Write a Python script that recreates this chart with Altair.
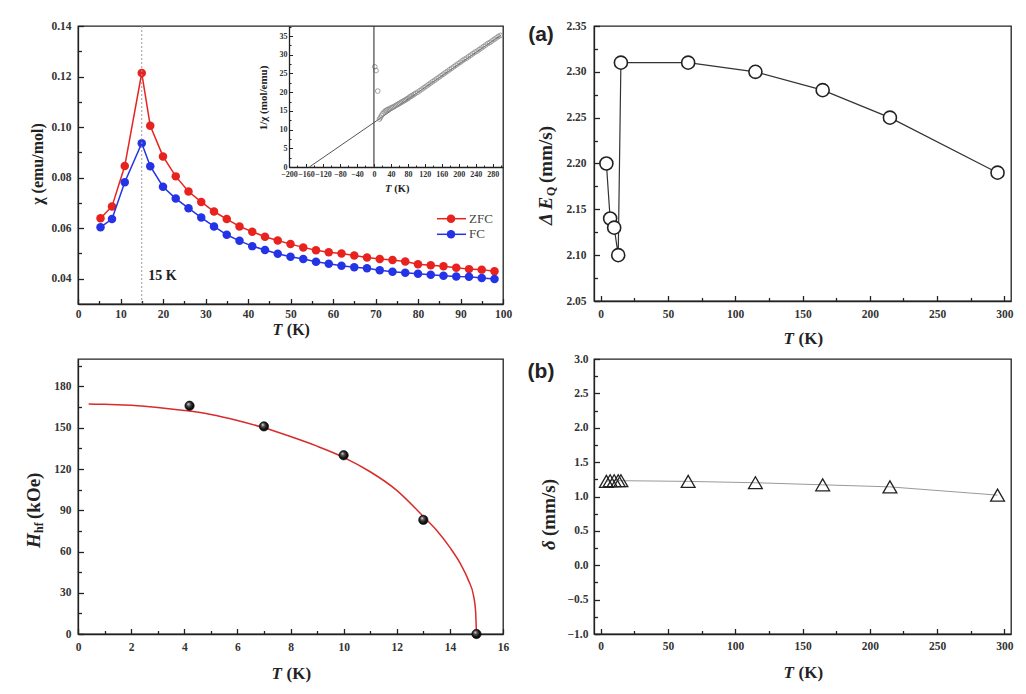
import altair as alt
import pandas as pd

SERIF = "Liberation Serif"
SANS = "Liberation Sans"
INK = "#222222"
LAB = "#333333"
RED = "#e8231f"
BLUE = "#2433e6"

# ---------------- data: top-left (susceptibility) ----------------
T_chi = [5.3, 8, 11, 15, 17, 20, 23, 26, 29, 32, 35, 38, 41, 44, 47, 50, 53, 56, 59, 62,
         65, 68, 71, 74, 77, 80, 83, 86, 89, 92, 95, 98]
chi_zfc = [0.0639, 0.0686, 0.0846, 0.1214, 0.1005, 0.0884, 0.0805, 0.0745, 0.0704, 0.0666,
           0.0636, 0.0607, 0.0586, 0.0566, 0.0551, 0.0537, 0.0524, 0.0513, 0.0505, 0.0500,
           0.0492, 0.0484, 0.0478, 0.0474, 0.0468, 0.0457, 0.0453, 0.0449, 0.0443, 0.0438,
           0.0436, 0.0430]
chi_fc = [0.0604, 0.0636, 0.0782, 0.0936, 0.0845, 0.0764, 0.0717, 0.0679, 0.0642, 0.0607,
          0.0574, 0.0550, 0.0529, 0.0514, 0.0499, 0.0487, 0.0478, 0.0467, 0.0459, 0.0451,
          0.0445, 0.0441, 0.0434, 0.0428, 0.0424, 0.0420, 0.0416, 0.0412, 0.0409, 0.0408,
          0.0403, 0.0399]
legend_labels = ["ZFC", "FC"]
legend_colors = [RED, BLUE]
T_peak = 15
peak_label = "15 K"

# inset: 1/chi vs T
T_inv = [2, 5, 9, 13, 15, 18, 21, 24, 27, 30, 33, 36, 39, 42, 45, 48, 51, 54, 57, 60, 63, 66,
         69, 72, 75, 78, 81, 84, 87, 90, 94, 98, 103, 108, 113, 118, 123, 128, 133, 138, 143,
         148, 153, 158, 163, 168, 173, 178, 183, 188, 193, 198, 203, 208, 213, 218, 223, 228,
         233, 238, 243, 248, 253, 258, 263, 268, 273, 278, 283, 288, 293, 298]
inv_chi = [26.8, 25.8, 20.3, 12.8, 13.2, 13.8, 14.3, 14.7, 15.0, 15.2, 15.4, 15.5, 15.7, 15.9,
           16.0, 16.2, 16.4, 16.6, 16.8, 17.0, 17.2, 17.4, 17.6, 17.8, 18.0, 18.2, 18.4, 18.7,
           18.9, 19.1, 19.4, 19.7, 20.0, 20.4, 20.8, 21.2, 21.6, 22.0, 22.4, 22.8, 23.2, 23.6,
           24.0, 24.4, 24.8, 25.2, 25.6, 26.0, 26.4, 26.8, 27.2, 27.6, 28.0, 28.4, 28.8, 29.1,
           29.5, 29.9, 30.3, 30.7, 31.0, 31.4, 31.8, 32.2, 32.6, 33.0, 33.3, 33.7, 34.1, 34.5,
           34.9, 35.2]
T_cw = [-152, 300]
cw_fit = [0.0, 35.3]

# ---------------- data: Mossbauer (a), (b) ----------------
T_moss = [4.2, 7, 10, 13, 15, 65, 115, 165, 215, 295]
dEq = [2.20, 2.14, 2.13, 2.10, 2.31, 2.31, 2.30, 2.28, 2.25, 2.19]
delta = [1.22, 1.23, 1.23, 1.23, 1.23, 1.22, 1.20, 1.17, 1.14, 1.02]

# ---------------- data: hyperfine field ----------------
T_hf = [4.2, 7, 10, 13, 15]
H_hf = [166, 151, 130, 83, 0]
T_hf_fit = [0.4, 1, 2, 3, 4, 5, 6, 7, 8, 9, 10, 11, 12, 13, 13.5, 14, 14.4, 14.7, 14.9,
            14.97, 15.0]
H_hf_fit = [167.2, 167.1, 166.3, 164.8, 162.6, 159.7, 155.3, 150.0, 143.6, 136.6, 128.5,
            118.0, 104.5, 85.5, 75.5, 63.0, 51.0, 39.0, 27.0, 16.0, 0.0]

# ---------------- ticks ----------------
chi_x_ticks = [0, 10, 20, 30, 40, 50, 60, 70, 80, 90, 100]
chi_x_minor = [5, 15, 25, 35, 45, 55, 65, 75, 85, 95]
chi_y_ticks = [0.04, 0.06, 0.08, 0.10, 0.12, 0.14]
chi_y_minor = [0.05, 0.07, 0.09, 0.11, 0.13]
ins_x_ticks = [-200, -160, -120, -80, -40, 0, 40, 80, 120, 160, 200, 240, 280]
ins_x_minor = [-180, -140, -100, -60, -20, 20, 60, 100, 140, 180, 220, 260, 300]
ins_y_ticks = [0, 5, 10, 15, 20, 25, 30, 35]
ins_y_minor = [2.5, 7.5, 12.5, 17.5, 22.5, 27.5, 32.5, 37.5]
moss_x_ticks = [0, 50, 100, 150, 200, 250, 300]
moss_x_minor = [25, 75, 125, 175, 225, 275]
deq_ticks = [2.05, 2.10, 2.15, 2.20, 2.25, 2.30, 2.35]
deq_minor = [2.075, 2.125, 2.175, 2.225, 2.275, 2.325]
del_ticks = [-1.0, -0.5, 0.0, 0.5, 1.0, 1.5, 2.0, 2.5, 3.0]
del_minor = [-0.75, -0.25, 0.25, 0.75, 1.25, 1.75, 2.25, 2.75]
hf_x_ticks = [0, 2, 4, 6, 8, 10, 12, 14, 16]
hf_x_minor = [1, 3, 5, 7, 9, 11, 13, 15]
hf_y_ticks = [0, 30, 60, 90, 120, 150, 180]
hf_y_minor = [15, 45, 75, 105, 135, 165, 195]

MAJ, MIN = 5.5, 3.5

one = pd.DataFrame({"k": [0]})


def sc(domain, rng=None):
    if rng is None:
        return alt.Scale(domain=domain, nice=False, zero=False)
    return alt.Scale(domain=domain, range=rng, nice=False, zero=False)


def lab_axis(orient, values, fmt, pad, size=11.5, offset=0):
    kw = dict(orient=orient, values=values, format=fmt, ticks=False, tickSize=0,
              domain=True, domainColor=INK, domainWidth=1.3, labels=True,
              labelFont=SERIF, labelFontWeight="bold", labelFontSize=size,
              labelColor=LAB, labelPadding=pad, labelFlush=False, labelOverlap=False,
              grid=False, title=None)
    if offset:
        kw["offset"] = offset
    return alt.Axis(**kw)


def tick_axis(orient, values, offset, size, width=1.3):
    return alt.Axis(orient=orient, offset=offset, values=values, labels=False,
                    domain=False, ticks=True, tickColor=INK, tickWidth=width,
                    tickSize=size, grid=False, title=None)


def txt(s, x, y, size, style="normal", weight="bold", angle=0, align="center",
        font=SERIF, color=INK):
    kw = dict(text=s, fontSize=size, fontStyle=style, fontWeight=weight, align=align,
              baseline="middle", font=font, color=color)
    if angle:
        kw["angle"] = angle
    return alt.Chart(one).mark_text(**kw).encode(x=alt.value(x), y=alt.value(y))


def t_title(cx, y, size):
    # "T (K)" with italic T
    wT = 0.62 * size
    start = cx - (2.3 * size) / 2
    return [txt("T", start, y, size, style="italic", align="left"),
            txt("(K)", start + wT + 0.27 * size, y, size, align="left")]


def ghost(df, xf, yf, xs, ys, xaxis, yaxis):
    # invisible layer that only carries a set of inward (minor) tick marks
    return alt.Chart(df).mark_point(opacity=0, size=1).encode(
        x=alt.X(xf, type="quantitative", scale=xs, axis=xaxis),
        y=alt.Y(yf, type="quantitative", scale=ys, axis=yaxis))


# ================= top-left panel =================
W1, H1 = 425, 278
df_chi = pd.DataFrame({"T": T_chi, "zfc": chi_zfc, "fc": chi_fc})
cx = [0, 100]
cy = [0.03, 0.14]

zfc_line = alt.Chart(df_chi).mark_line(color=RED, strokeWidth=1.5).encode(
    x=alt.X("T:Q", scale=sc(cx), axis=lab_axis("bottom", chi_x_ticks, "d", 4)),
    y=alt.Y("zfc:Q", scale=sc(cy), axis=lab_axis("left", chi_y_ticks, ".2f", 7)))
zfc_pts = alt.Chart(df_chi).mark_circle(color=RED, size=72, opacity=1).encode(
    x=alt.X("T:Q", scale=sc(cx), axis=tick_axis("top", chi_x_ticks, -H1, MAJ)),
    y=alt.Y("zfc:Q", scale=sc(cy), axis=tick_axis("right", chi_y_ticks, -W1, MAJ)))
fc_line = alt.Chart(df_chi).mark_line(color=BLUE, strokeWidth=1.5).encode(
    x=alt.X("T:Q", scale=sc(cx), axis=None), y=alt.Y("fc:Q", scale=sc(cy), axis=None))
fc_pts = alt.Chart(df_chi).mark_circle(color=BLUE, size=72, opacity=1).encode(
    x=alt.X("T:Q", scale=sc(cx), axis=tick_axis("top", chi_x_minor, -H1, MIN)),
    y=alt.Y("fc:Q", scale=sc(cy), axis=tick_axis("right", chi_y_minor, -W1, MIN)))
peak_rule = alt.Chart(one).mark_rule(color="#9a9a9a", strokeDash=[2, 2], strokeWidth=1).encode(
    x=alt.XDatum(T_peak, type="quantitative", scale=sc(cx), axis=None))
peak_text = alt.Chart(one).mark_text(text=peak_label, font=SERIF, fontWeight="bold", fontSize=14,
                                     align="left", baseline="middle", color=INK).encode(
    x=alt.XDatum(16.5, type="quantitative", scale=sc(cx), axis=None),
    y=alt.YDatum(0.0411, type="quantitative", scale=sc(cy), axis=None))

legend_layers = []
for i, (lab, col) in enumerate(zip(legend_labels, legend_colors)):
    yy = 192.7 + 15.6 * i
    legend_layers.append(alt.Chart(one).mark_rule(color=col, strokeWidth=1.5).encode(
        x=alt.value(359), x2=alt.value(388), y=alt.value(yy)))
    legend_layers.append(alt.Chart(one).mark_circle(color=col, size=72, opacity=1).encode(
        x=alt.value(373), y=alt.value(yy)))
    legend_layers.append(txt(lab, 391, yy, 13, weight="normal", align="left", color="#444"))

# inset
ix = [-200, 304]
iy = [0, 37.7]
irx = [211, 425]
iry = [141, 0]
df_inv = pd.DataFrame({"T": T_inv, "v": inv_chi})
df_cw = pd.DataFrame({"T": T_cw, "v": cw_fit})
cw_line = alt.Chart(df_cw).mark_line(color="#555", strokeWidth=1).encode(
    x=alt.X("T:Q", scale=sc(ix, irx), axis=lab_axis("bottom", ins_x_ticks, "d", 3, size=8, offset=-137)),
    y=alt.Y("v:Q", scale=sc(iy, iry), axis=lab_axis("left", ins_y_ticks, "d", 2, size=8, offset=-211)))
inv_pts = alt.Chart(df_inv).mark_point(shape="circle", filled=False, color="#8a8a8a", size=22,
                                       strokeWidth=0.8, opacity=1).encode(
    x=alt.X("T:Q", scale=sc(ix, irx), axis=tick_axis("top", ins_x_ticks, -141, 3.5, 1)),
    y=alt.Y("v:Q", scale=sc(iy, iry), axis=tick_axis("right", ins_y_ticks, -214, 3.5, 1)))
inv_minor = ghost(df_inv, "T", "v", sc(ix, irx), sc(iy, iry),
                  tick_axis("top", ins_x_minor, -141, 2, 1), tick_axis("right", ins_y_minor, -214, 2, 1))
zero_rule = alt.Chart(one).mark_rule(color="#444", strokeWidth=1.2).encode(
    x=alt.XDatum(0, type="quantitative", scale=sc(ix, irx), axis=None),
    y=alt.YDatum(0, type="quantitative", scale=sc(iy, iry), axis=None),
    y2=alt.Y2Datum(37.7))

tl_titles = t_title(213, 304, 16) + [
    txt("χ (emu/mol)", -40, 138, 16, angle=270),
    txt("1/χ (mol/emu)", 186, 72, 11, angle=270),
] + t_title(319, 163, 10.5)

tl = alt.layer(zfc_line, zfc_pts, fc_line, fc_pts, peak_rule, peak_text, cw_line, inv_pts,
               inv_minor, zero_rule, *legend_layers, *tl_titles).properties(
    width=W1, height=H1).resolve_scale(x="independent", y="independent").resolve_axis(
    x="independent", y="independent")

# ================= top-right panel (a) =================
W2, H2 = 417, 275
mx = [-5, 305]
df_m = pd.DataFrame({"T": T_moss, "dEq": dEq, "delta": delta})
a_line = alt.Chart(df_m).mark_line(color="#333", strokeWidth=1.2).encode(
    x=alt.X("T:Q", scale=sc(mx), axis=lab_axis("bottom", moss_x_ticks, "d", 7)),
    y=alt.Y("dEq:Q", scale=sc([2.05, 2.35]), axis=lab_axis("left", deq_ticks, ".2f", 8)))
a_pts = alt.Chart(df_m).mark_point(shape="circle", filled=True, fill="white", stroke=INK,
                                   strokeWidth=1.6, size=170, opacity=1).encode(
    x=alt.X("T:Q", scale=sc(mx), axis=tick_axis("top", moss_x_ticks, -H2, MAJ)),
    y=alt.Y("dEq:Q", scale=sc([2.05, 2.35]), axis=tick_axis("right", deq_ticks, -W2, MAJ)))
a_minor = ghost(df_m, "T", "dEq", sc(mx), sc([2.05, 2.35]),
                tick_axis("top", moss_x_minor, -H2, MIN), tick_axis("right", deq_minor, -W2, MIN))
a_titles = t_title(209, 313, 17) + [
    txt("(a)", -53, 9, 21, font=SANS),
    txt("Δ E", -48, 199, 19, style="italic", angle=270, align="left"),
    txt("Q", -43, 170, 12, angle=270, align="left"),
    txt("(mm/s)", -48, 157, 19, angle=270, align="left"),
]
tr = alt.layer(a_line, a_minor, a_pts, *a_titles).properties(width=W2, height=H2).resolve_axis(
    x="independent", y="independent")

# ================= bottom-left panel =================
W3, H3 = 425, 275
hx = [0, 16]
hy = [0, 200]
df_hf = pd.DataFrame({"T": T_hf, "H": H_hf})
df_fit = pd.DataFrame({"T": T_hf_fit, "H": H_hf_fit})
fit_line = alt.Chart(df_fit).mark_line(color="#d92b2b", strokeWidth=1.5, interpolate="monotone").encode(
    x=alt.X("T:Q", scale=sc(hx), axis=lab_axis("bottom", hf_x_ticks, "d", 7)),
    y=alt.Y("H:Q", scale=sc(hy), axis=lab_axis("left", hf_y_ticks, "d", 7)))
sphere = alt.RadialGradient(gradient="radial", x1=0.35, y1=0.3, r1=0.0, x2=0.5, y2=0.5, r2=0.6,
                            stops=[alt.GradientStop(color="#f2f2f2", offset=0),
                                   alt.GradientStop(color="#555555", offset=0.3),
                                   alt.GradientStop(color="#111111", offset=0.65),
                                   alt.GradientStop(color="#000000", offset=1)])
hf_pts = alt.Chart(df_hf).mark_point(shape="circle", filled=True, fill=sphere, stroke="#111",
                                     strokeWidth=0.6, size=88, opacity=1).encode(
    x=alt.X("T:Q", scale=sc(hx), axis=tick_axis("top", hf_x_ticks, -H3, MAJ)),
    y=alt.Y("H:Q", scale=sc(hy), axis=tick_axis("right", hf_y_ticks, -W3, MAJ)))
hf_minor = ghost(df_hf, "T", "H", sc(hx), sc(hy),
                 tick_axis("top", hf_x_minor, -H3, MIN), tick_axis("right", hf_y_minor, -W3, MIN))
bl_titles = t_title(213, 315, 17) + [
    txt("H", -44, 189, 19, style="italic", angle=270, align="left"),
    txt("hf", -39, 174, 12, angle=270, align="left"),
    txt("(kOe)", -44, 160, 19, angle=270, align="left"),
]
bl = alt.layer(fit_line, hf_minor, hf_pts, *bl_titles).properties(width=W3, height=H3).resolve_axis(
    x="independent", y="independent")

# ================= bottom-right panel (b) =================
W4, H4 = 417, 275
b_line = alt.Chart(df_m).mark_line(color="#999", strokeWidth=1).encode(
    x=alt.X("T:Q", scale=sc(mx), axis=lab_axis("bottom", moss_x_ticks, "d", 6)),
    y=alt.Y("delta:Q", scale=sc([-1, 3]), axis=lab_axis("left", del_ticks, ".1f", 6)))
b_pts = alt.Chart(df_m).mark_point(shape="triangle-up", filled=False, color=INK,
                                   strokeWidth=1.3, size=190, opacity=1).encode(
    x=alt.X("T:Q", scale=sc(mx), axis=tick_axis("top", moss_x_ticks, -H4, MAJ)),
    y=alt.Y("delta:Q", scale=sc([-1, 3]), axis=tick_axis("right", del_ticks, -W4, MAJ)))
b_minor = ghost(df_m, "T", "delta", sc(mx), sc([-1, 3]),
                tick_axis("top", moss_x_minor, -H4, MIN), tick_axis("right", del_minor, -W4, MIN))
br_titles = t_title(209, 314, 17) + [
    txt("(b)", -53, 13, 21, font=SANS),
    txt("δ", -45, 191, 19, style="italic", angle=270, align="left"),
    txt("(mm/s)", -45, 177, 19, angle=270, align="left"),
]
br = alt.layer(b_line, b_minor, b_pts, *br_titles).properties(width=W4, height=H4).resolve_axis(
    x="independent", y="independent")

chart = alt.concat(tl, tr, bl, br, columns=2, spacing={"row": 55, "column": 91},
                   bounds="flush").properties(
    padding={"left": 16, "top": 11, "right": 2, "bottom": 2},
    background="white").configure_view(stroke=INK, strokeWidth=1.3)

chart.save("out.html", embed_options={"renderer": "svg", "actions": False})
